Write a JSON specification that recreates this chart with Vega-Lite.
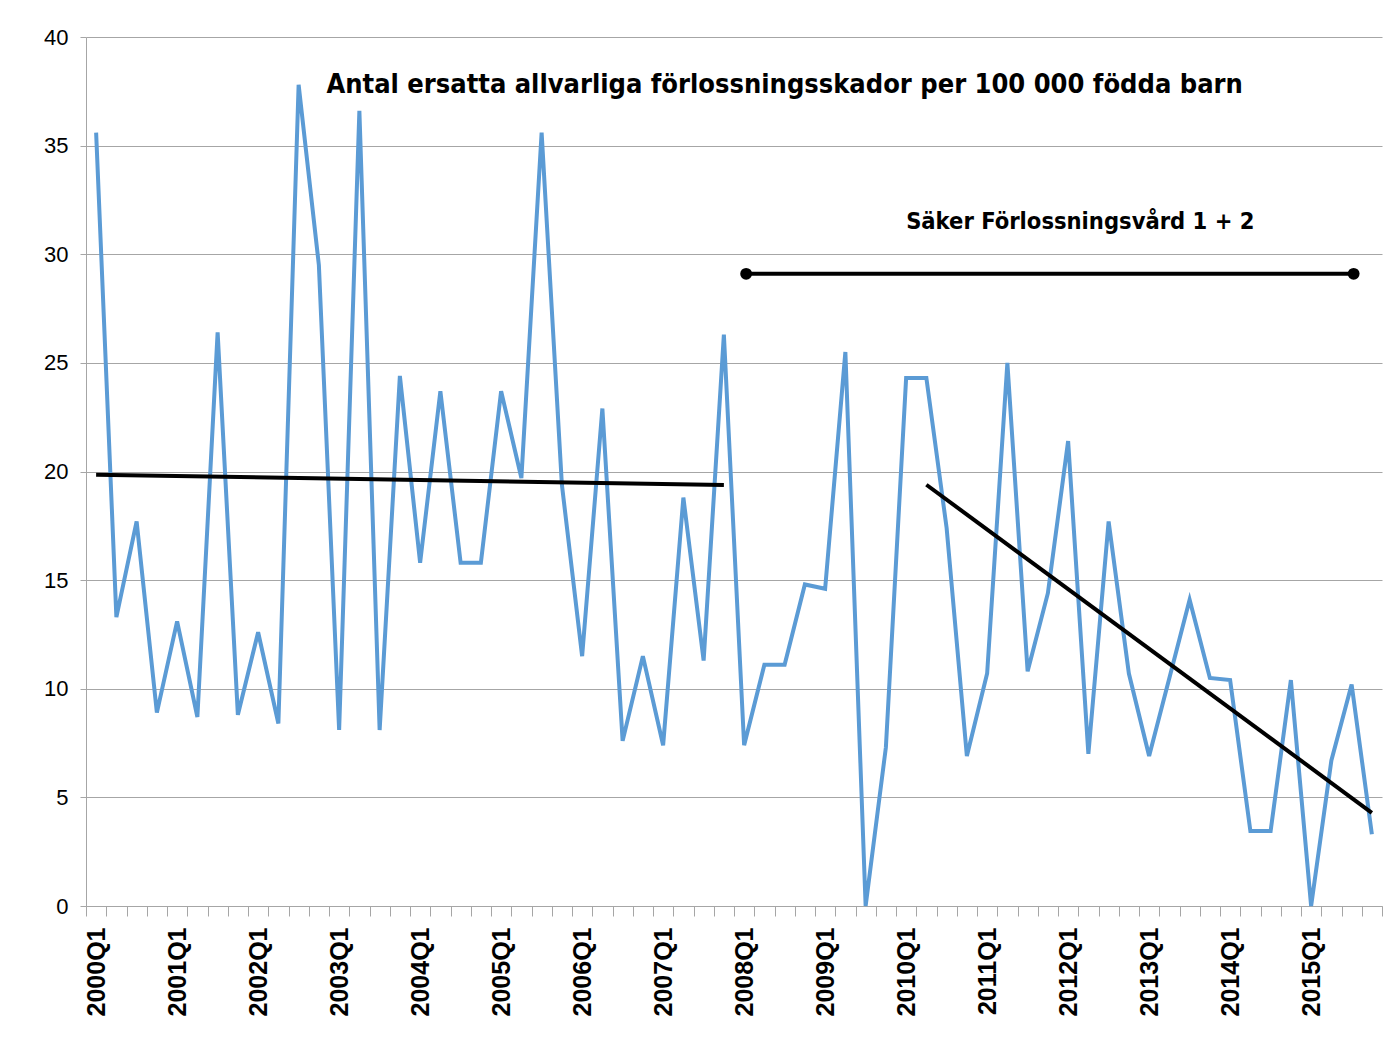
{
  "$schema": "https://vega.github.io/schema/vega-lite/v6.json",
  "width": 1296,
  "height": 869,
  "autosize": {"type": "none"},
  "padding": {"left": 86, "top": 37, "right": 11, "bottom": 137},
  "background": "white",
  "config": {"view": {"stroke": null}},
  "datasets": {
    "dseries": [
      {"q": "2000Q1", "v": 35.6}, {"q": "2000Q2", "v": 13.3}, {"q": "2000Q3", "v": 17.7}, {"q": "2000Q4", "v": 8.9},
      {"q": "2001Q1", "v": 13.1}, {"q": "2001Q2", "v": 8.7}, {"q": "2001Q3", "v": 26.4}, {"q": "2001Q4", "v": 8.8},
      {"q": "2002Q1", "v": 12.6}, {"q": "2002Q2", "v": 8.4}, {"q": "2002Q3", "v": 37.8}, {"q": "2002Q4", "v": 29.5},
      {"q": "2003Q1", "v": 8.1}, {"q": "2003Q2", "v": 36.6}, {"q": "2003Q3", "v": 8.1}, {"q": "2003Q4", "v": 24.4},
      {"q": "2004Q1", "v": 15.8}, {"q": "2004Q2", "v": 23.7}, {"q": "2004Q3", "v": 15.8}, {"q": "2004Q4", "v": 15.8},
      {"q": "2005Q1", "v": 23.7}, {"q": "2005Q2", "v": 19.7}, {"q": "2005Q3", "v": 35.6}, {"q": "2005Q4", "v": 19.4},
      {"q": "2006Q1", "v": 11.5}, {"q": "2006Q2", "v": 22.9}, {"q": "2006Q3", "v": 7.6}, {"q": "2006Q4", "v": 11.5},
      {"q": "2007Q1", "v": 7.4}, {"q": "2007Q2", "v": 18.8}, {"q": "2007Q3", "v": 11.3}, {"q": "2007Q4", "v": 26.3},
      {"q": "2008Q1", "v": 7.4}, {"q": "2008Q2", "v": 11.1}, {"q": "2008Q3", "v": 11.1}, {"q": "2008Q4", "v": 14.8},
      {"q": "2009Q1", "v": 14.6}, {"q": "2009Q2", "v": 25.5}, {"q": "2009Q3", "v": 0}, {"q": "2009Q4", "v": 7.3},
      {"q": "2010Q1", "v": 24.3}, {"q": "2010Q2", "v": 24.3}, {"q": "2010Q3", "v": 17.4}, {"q": "2010Q4", "v": 6.9},
      {"q": "2011Q1", "v": 10.7}, {"q": "2011Q2", "v": 25.0}, {"q": "2011Q3", "v": 10.8}, {"q": "2011Q4", "v": 14.4},
      {"q": "2012Q1", "v": 21.4}, {"q": "2012Q2", "v": 7.0}, {"q": "2012Q3", "v": 17.7}, {"q": "2012Q4", "v": 10.7},
      {"q": "2013Q1", "v": 6.9}, {"q": "2013Q2", "v": 10.5}, {"q": "2013Q3", "v": 14.1}, {"q": "2013Q4", "v": 10.5},
      {"q": "2014Q1", "v": 10.4}, {"q": "2014Q2", "v": 3.45}, {"q": "2014Q3", "v": 3.45}, {"q": "2014Q4", "v": 10.4},
      {"q": "2015Q1", "v": 0}, {"q": "2015Q2", "v": 6.7}, {"q": "2015Q3", "v": 10.2}, {"q": "2015Q4", "v": 3.3}
    ],
    "dtrend1": [{"q": "2000Q1", "v": 19.85}, {"q": "2007Q4", "v": 19.38}],
    "dtrend2": [{"q": "2010Q2", "v": 19.39}, {"q": "2015Q4", "v": 4.29}],
    "dperiod": [{"q": "2008Q1", "v": 29.1}, {"q": "2015Q3", "v": 29.1}],
    "dheading": [{"q": "2008Q3", "v": 37.8, "label": "Antal ersatta allvarliga förlossningsskador per 100 000 födda barn"}],
    "dsub": [{"q": "2010Q1", "v": 31.5, "label": "Säker Förlossningsvård 1 + 2"}]
  },
  "encoding": {
    "x": {
      "field": "q", "type": "ordinal",
      "scale": {
        "type": "band", "paddingInner": 0, "paddingOuter": 0,
        "domain": ["2000Q1","2000Q2","2000Q3","2000Q4","2001Q1","2001Q2","2001Q3","2001Q4","2002Q1","2002Q2","2002Q3","2002Q4","2003Q1","2003Q2","2003Q3","2003Q4","2004Q1","2004Q2","2004Q3","2004Q4","2005Q1","2005Q2","2005Q3","2005Q4","2006Q1","2006Q2","2006Q3","2006Q4","2007Q1","2007Q2","2007Q3","2007Q4","2008Q1","2008Q2","2008Q3","2008Q4","2009Q1","2009Q2","2009Q3","2009Q4","2010Q1","2010Q2","2010Q3","2010Q4","2011Q1","2011Q2","2011Q3","2011Q4","2012Q1","2012Q2","2012Q3","2012Q4","2013Q1","2013Q2","2013Q3","2013Q4","2014Q1","2014Q2","2014Q3","2014Q4","2015Q1","2015Q2","2015Q3","2015Q4"]
      },
      "axis": {
        "title": null,
        "labelExpr": "isString(datum.value) && indexof(datum.value, 'Q1') > 0 ? datum.value : ''",
        "labelAngle": 270,
        "labelFont": "Liberation Sans",
        "labelFontWeight": "bold",
        "labelFontSize": 25,
        "labelColor": "black",
        "labelPadding": 11,
        "labelOverlap": false,
        "tickBand": "extent",
        "tickSize": 10,
        "tickColor": "#a6a6a6",
        "domainColor": "#a6a6a6",
        "grid": false
      }
    },
    "y": {
      "field": "v", "type": "quantitative",
      "scale": {"domain": [0, 40], "nice": false},
      "axis": {
        "title": null,
        "values": [0, 5, 10, 15, 20, 25, 30, 35, 40],
        "labelFont": "Liberation Sans",
        "labelFontSize": 22,
        "labelColor": "black",
        "labelPadding": 12,
        "tickSize": 6,
        "tickColor": "#a6a6a6",
        "domainColor": "#a6a6a6",
        "grid": true,
        "gridColor": "#a6a6a6"
      }
    }
  },
  "layer": [
    {
      "data": {"name": "dseries"},
      "mark": {"type": "line", "color": "#5b9bd5", "strokeWidth": 4}
    },
    {
      "data": {"name": "dtrend1"},
      "mark": {"type": "line", "color": "black", "strokeWidth": 4}
    },
    {
      "data": {"name": "dtrend2"},
      "mark": {"type": "line", "color": "black", "strokeWidth": 4}
    },
    {
      "data": {"name": "dperiod"},
      "mark": {"type": "line", "color": "black", "strokeWidth": 4},
      "encoding": {"x": {"field": "q", "type": "ordinal", "bandPosition": 0.6}}
    },
    {
      "data": {"name": "dperiod"},
      "mark": {"type": "point", "filled": true, "color": "black", "opacity": 1, "size": 140},
      "encoding": {"x": {"field": "q", "type": "ordinal", "bandPosition": 0.6}}
    },
    {
      "data": {"name": "dheading"},
      "mark": {"type": "text", "font": "Liberation Sans Narrow, DejaVu Sans Condensed, sans-serif", "fontSize": 27, "fontWeight": "bold", "align": "center", "baseline": "middle", "color": "black"},
      "encoding": {"text": {"field": "label"}}
    },
    {
      "data": {"name": "dsub"},
      "mark": {"type": "text", "font": "Liberation Sans Narrow, DejaVu Sans Condensed, sans-serif", "fontSize": 23.5, "fontWeight": "bold", "align": "left", "baseline": "middle", "color": "black"},
      "encoding": {"text": {"field": "label"}}
    }
  ]
}
